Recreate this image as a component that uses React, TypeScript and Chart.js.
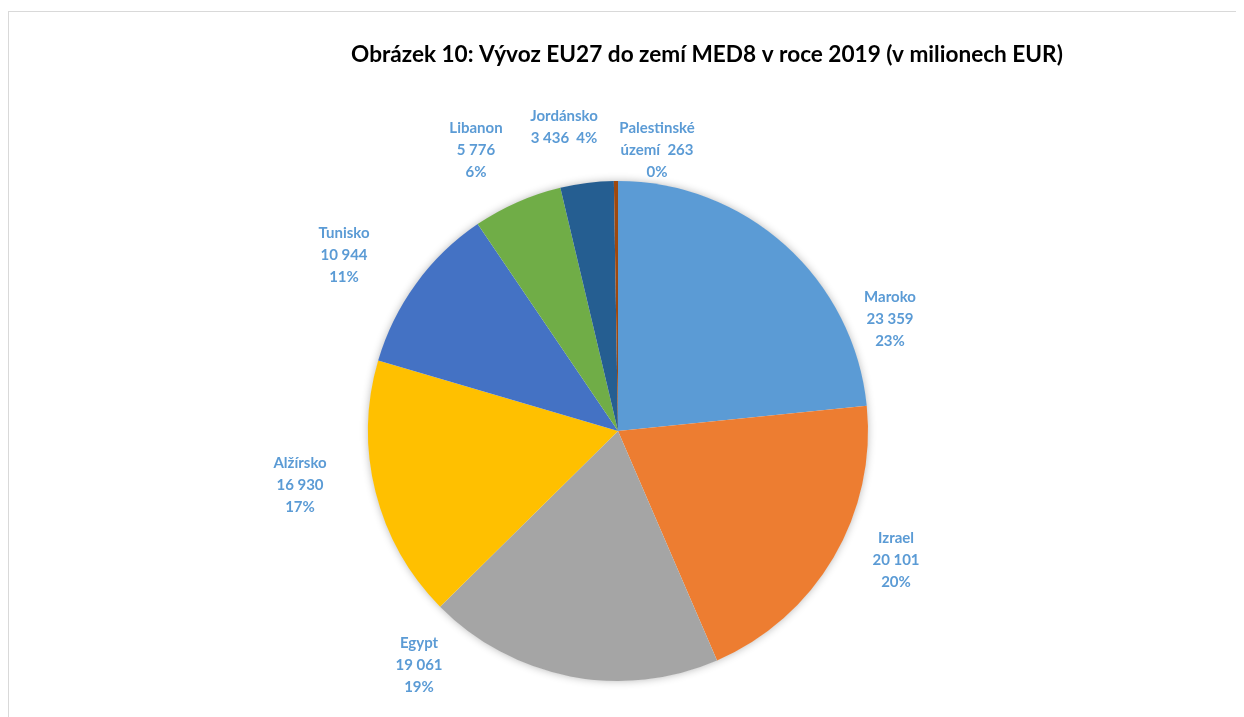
import React, { useEffect, useRef } from "react";
import { Chart, registerables } from "chart.js";

Chart.register(...registerables);

const TITLE = "Obrázek 10: Vývoz EU27 do zemí MED8 v roce 2019 (v milionech EUR)";

const categories = [
  "Maroko",
  "Izrael",
  "Egypt",
  "Alžírsko",
  "Tunisko",
  "Libanon",
  "Jordánsko",
  "Palestinské území",
];

const values = [23359, 20101, 19061, 16930, 10944, 5776, 3436, 263];

// percentages as printed in the source chart
const percents = [23, 20, 19, 17, 11, 6, 4, 0];

const colors = [
  "#5B9BD5",
  "#ED7D31",
  "#A5A5A5",
  "#FFC000",
  "#4472C4",
  "#70AD47",
  "#255E91",
  "#9E480E",
];

// how each data label wraps (like Excel's best-fit labels)
const labelWraps = ["stack", "stack", "stack", "stack", "stack", "stack", "nameOnly", "splitName"];

// label anchor offsets, in units of the pie radius, relative to the pie centre
const labelOffsets: [number, number][] = [
  [1.088, -0.448],
  [1.112, 0.516],
  [-0.796, 0.936],
  [-1.272, 0.216],
  [-1.096, -0.704],
  [-0.568, -1.124],
  [-0.216, -1.214],
  [0.156, -1.124],
];

const fmt = (v: number) => String(v).replace(/\B(?=(\d{3})+(?!\d))/g, " ");

function labelLines(i: number): string[] {
  const name = categories[i];
  const v = fmt(values[i]);
  const p = percents[i] + "%";
  const wrap = labelWraps[i];
  if (wrap === "nameOnly") return [name, `${v}  ${p}`];
  if (wrap === "splitName") {
    const parts = name.split(" ");
    return [parts[0], `${parts.slice(1).join(" ")}  ${v}`, p];
  }
  return [name, v, p];
}

const FONT = "Lato, 'Open Sans', sans-serif";

const piePlugin = {
  id: "pieDecor",
  beforeDatasetsDraw(chart: any) {
    const arc = chart.getDatasetMeta(0).data[0];
    if (!arc) return;
    const ctx = chart.ctx;
    ctx.save();
    ctx.shadowColor = "rgba(0,0,0,0.30)";
    ctx.shadowBlur = 9;
    ctx.beginPath();
    ctx.arc(arc.x, arc.y, arc.outerRadius - 0.5, 0, Math.PI * 2);
    ctx.fillStyle = "#ffffff";
    ctx.fill();
    ctx.restore();
  },
  afterDraw(chart: any) {
    const ctx = chart.ctx;
    const meta = chart.getDatasetMeta(0);
    ctx.save();
    // title
    ctx.fillStyle = "#000000";
    ctx.font = `bold 22.6px ${FONT}`;
    ctx.textAlign = "center";
    ctx.textBaseline = "middle";
    ctx.fillText(TITLE, chart.width * 0.5656, 43);
    // data labels
    ctx.font = `bold 15px ${FONT}`;
    ctx.fillStyle = "#5B9BD5";
    const lh = 21.8;
    meta.data.forEach((el: any, i: number) => {
      const r = el.outerRadius;
      const cx = el.x + labelOffsets[i][0] * r;
      const cy = el.y + labelOffsets[i][1] * r;
      const lines = labelLines(i);
      const start = cy - ((lines.length - 1) * lh) / 2;
      lines.forEach((t, k) => ctx.fillText(t, cx, start + k * lh));
    });
    ctx.restore();
  },
};

export default function App() {
  const ref = useRef<HTMLCanvasElement | null>(null);
  useEffect(() => {
    if (!ref.current) return;
    const chart = new Chart(ref.current, {
      type: "pie",
      data: {
        labels: categories,
        datasets: [
          {
            data: values,
            backgroundColor: colors,
            borderWidth: 0,
          },
        ],
      },
      options: {
        animation: false,
        responsive: false,
        layout: { padding: { top: 169, bottom: 41, left: 0, right: 16 } },
        plugins: {
          legend: { display: false },
          tooltip: { enabled: false },
          title: { display: false },
        },
      },
      plugins: [piePlugin],
    });
    return () => chart.destroy();
  }, []);
  return (
    <div
      style={{
        marginTop: 3,
        width: 1234,
        height: 710,
        border: "1px solid #d9d9d9",
        background: "#ffffff",
      }}
    >
      <canvas ref={ref} width={1234} height={710} style={{ display: "block" }} />
    </div>
  );
}
